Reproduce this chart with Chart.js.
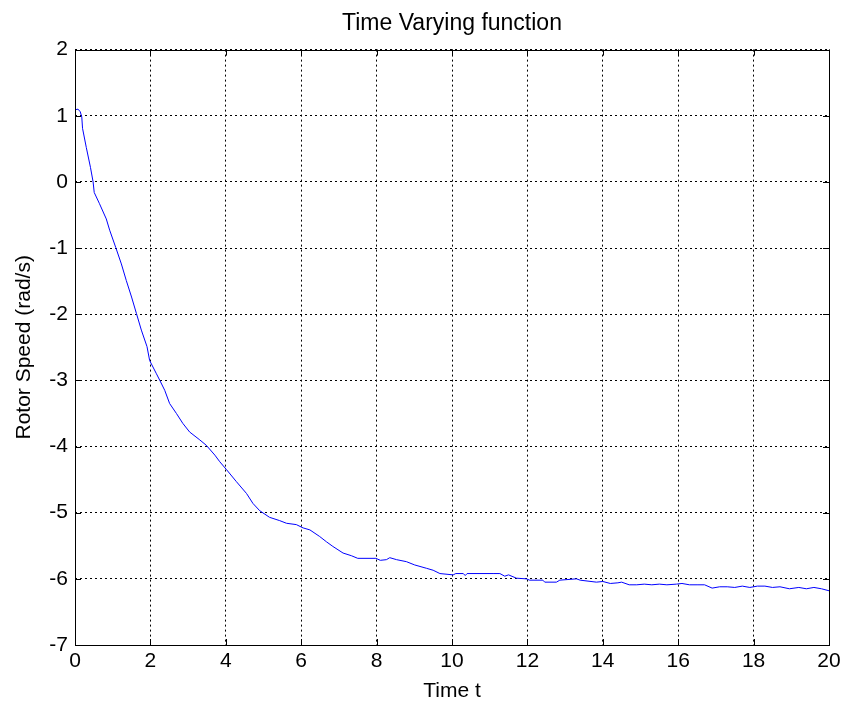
<!DOCTYPE html>
<html>
<head>
<meta charset="utf-8">
<script src="https://cdn.jsdelivr.net/npm/chart.js@4/dist/chart.umd.min.js"></script>
<style>
html,body{margin:0;padding:0;background:#fff;}
#wrap{width:844px;height:702px;position:relative;}
</style>
</head>
<body>
<div id="wrap"><canvas id="c" width="844" height="702"></canvas></div>
<script>
const chartTitle = "Time Varying function";
const xLabel = "Time t";
const yLabel = "Rotor Speed (rad/s)";
const xTicks = [0, 2, 4, 6, 8, 10, 12, 14, 16, 18, 20];
const yTicks = [2, 1, 0, -1, -2, -3, -4, -5, -6, -7];
const times = [0, 0.08, 0.14, 0.18, 0.2, 0.3, 0.41, 0.48, 0.51, 0.65, 0.83, 0.92, 1.08, 1.23, 1.36, 1.5, 1.63, 1.76, 1.91, 1.98,
  2.16, 2.25, 2.38, 2.51, 2.69, 2.86, 3.04, 3.31, 3.48, 3.71, 3.84, 4.02, 4.28, 4.55, 4.72, 4.9, 5.16, 5.43, 5.61, 5.87,
  6.05, 6.23, 6.49, 6.67, 6.84, 7.11, 7.33, 7.5, 7.98, 8.1, 8.26, 8.35, 8.53, 8.79, 9.01, 9.32, 9.5, 9.68, 10.03, 10.1,
  10.3, 10.35, 10.4, 11.09, 11.27, 11.4, 11.5, 11.71, 11.97, 12.06, 12.41, 12.46, 12.77, 12.86, 13.3, 13.4, 13.83,
  14.0, 14.2, 14.4, 14.5, 14.7, 14.9, 15.1, 15.3, 15.5, 15.7, 15.95, 16.1, 16.3, 16.5, 16.7, 16.9, 17.1, 17.3, 17.5, 17.7,
  17.9, 18.1, 18.3, 18.5, 18.7, 18.95, 19.2, 19.4, 19.6, 19.8, 20];
const speeds = [1.09, 1.10, 1.06, 0.98, 0.81, 0.52, 0.22, 0.0, -0.16, -0.33, -0.56, -0.73, -0.99, -1.24, -1.49, -1.74, -1.99, -2.24, -2.49, -2.70,
  -2.90, -3.0, -3.15, -3.35, -3.5, -3.65, -3.78, -3.90, -3.98, -4.13, -4.23, -4.35, -4.53, -4.71, -4.86, -4.97, -5.07, -5.12, -5.16, -5.18,
  -5.23, -5.26, -5.36, -5.44, -5.51, -5.61, -5.65, -5.69, -5.69, -5.72, -5.71, -5.68, -5.71, -5.74, -5.79, -5.84, -5.87, -5.92, -5.94, -5.92,
  -5.92, -5.95, -5.92, -5.92, -5.92, -5.96, -5.94, -5.99, -6.0, -6.02, -6.02, -6.05, -6.05, -6.02, -6.0, -6.02, -6.05,
  -6.04, -6.07, -6.06, -6.05, -6.09, -6.09, -6.08, -6.09, -6.08, -6.09, -6.08, -6.07, -6.09, -6.09, -6.09, -6.14, -6.12, -6.12, -6.13, -6.11,
  -6.13, -6.11, -6.11, -6.13, -6.12, -6.15, -6.13, -6.15, -6.13, -6.15, -6.18];

const points = times.map((t, i) => ({x: t, y: speeds[i]}));
const FONT = "'Liberation Sans', Arial, sans-serif";

const framePlugin = {
  id: 'frame',
  afterDatasetsDraw(chart) {
    const {ctx, chartArea: a, scales} = chart;
    ctx.save();
    ctx.strokeStyle = '#000';
    ctx.lineWidth = 1;
    ctx.setLineDash([]);
    ctx.strokeRect(Math.round(a.left) + 0.5, Math.round(a.top) + 0.5, Math.round(a.right - a.left), Math.round(a.bottom - a.top));
    const tl = 6;
    ctx.beginPath();
    xTicks.forEach(v => {
      const px = Math.round(scales.x.getPixelForValue(v)) + 0.5;
      ctx.moveTo(px, a.bottom); ctx.lineTo(px, a.bottom - tl);
      ctx.moveTo(px, a.top); ctx.lineTo(px, a.top + tl);
    });
    yTicks.forEach(v => {
      const py = Math.round(scales.y.getPixelForValue(v)) + 0.5;
      ctx.moveTo(a.left, py); ctx.lineTo(a.left + tl, py);
      ctx.moveTo(a.right, py); ctx.lineTo(a.right - tl, py);
    });
    ctx.stroke();
    ctx.restore();
  }
};

new Chart(document.getElementById('c'), {
  type: 'line',
  data: {
    datasets: [{
      data: points,
      borderColor: '#0000ff',
      borderWidth: 1,
      pointRadius: 0,
      tension: 0,
      fill: false
    }]
  },
  options: {
    responsive: false,
    animation: false,
    events: [],
    layout: {padding: {left: 0, right: 15, top: 0, bottom: 0}},
    plugins: {
      legend: {display: false},
      tooltip: {enabled: false},
      title: {
        display: true,
        fullSize: false,
        text: chartTitle,
        color: '#000',
        font: {family: FONT, size: 23, weight: 'normal', lineHeight: 1.2},
        padding: {top: 10, bottom: 12}
      }
    },
    scales: {
      x: {
        type: 'linear',
        min: 0, max: 20,
        afterFit(s) { s.height = 57; s.paddingRight = 0; s.paddingLeft = 0; },
        afterBuildTicks(s) { s.ticks = xTicks.map(v => ({value: v})); },
        ticks: {color: '#000', font: {family: FONT, size: 21, lineHeight: 1.0}, padding: 6, maxRotation: 0},
        grid: {color: '#000', lineWidth: 1, drawTicks: false},
        border: {display: false, dash: [2, 3]},
        title: {display: true, text: xLabel, color: '#000', font: {family: FONT, size: 21, lineHeight: 1.0}, padding: {top: 4, bottom: 0}}
      },
      y: {
        type: 'linear',
        min: -7, max: 2,
        afterFit(s) { s.width = 75; s.paddingTop = 0; s.paddingBottom = 0; },
        afterBuildTicks(s) { s.ticks = yTicks.map(v => ({value: v})); },
        ticks: {color: '#000', font: {family: FONT, size: 21}, padding: 7},
        grid: {color: '#000', lineWidth: 1, drawTicks: false},
        border: {display: false, dash: [2, 3]},
        title: {display: true, text: yLabel, color: '#000', font: {family: FONT, size: 21, lineHeight: 1.2}, padding: {top: 12, bottom: 4}}
      }
    }
  },
  plugins: [framePlugin]
});
</script>
</body>
</html>
